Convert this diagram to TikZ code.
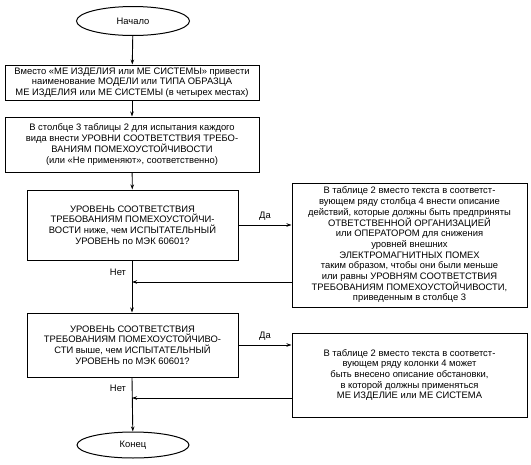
\documentclass[tikz,border=0pt]{standalone}
\usepackage{fontspec}
\setmainfont{Liberation Sans}
\usetikzlibrary{shapes.geometric,arrows.meta}

\tikzset{
	blk/.style={draw,line width=1pt,rectangle,align=center,inner sep=2pt,font=\fontsize{9.4}{10.7}\selectfont},
	term/.style={draw,line width=1pt,ellipse,inner sep=0pt,font=\fontsize{9.4}{10.7}\selectfont},
	arr/.style={line width=0.9pt,-{Stealth[length=5pt,width=3.5pt]}},
	lbl/.style={font=\fontsize{9.4}{10.7}\selectfont,inner sep=0pt}
}

\begin{document}
\begin{tikzpicture}[x=1pt,y=-1pt]
		\useasboundingbox (0,0) rectangle (531,464);
		% main column
		\node[term,minimum width=113pt,minimum height=29pt] (start) at (133,21) {Начало};
		\node[blk,minimum width=254pt,minimum height=35pt] (b1) at (132,82.5)
			{Вместо «МЕ ИЗДЕЛИЯ или МЕ СИСТЕМЫ» привести\\наименование МОДЕЛИ или ТИПА ОБРАЗЦА\\МЕ ИЗДЕЛИЯ или МЕ СИСТЕМЫ (в четырех местах)};
		\node[blk,minimum width=254pt,minimum height=55pt] (b2) at (132,144.5)
			{В столбце 3 таблицы 2 для испытания каждого\\вида внести УРОВНИ СООТВЕТСТВИЯ ТРЕБО-\\ВАНИЯМ ПОМЕХОУСТОЙЧИВОСТИ\\(или «Не применяют», соответственно)};
		\node[blk,minimum width=211pt,minimum height=70pt] (q1) at (132.5,225)
			{УРОВЕНЬ СООТВЕТСТВИЯ\\ТРЕБОВАНИЯМ ПОМЕХОУСТОЙЧИ-\\ВОСТИ ниже, чем ИСПЫТАТЕЛЬНЫЙ\\УРОВЕНЬ по МЭК 60601?};
		\node[blk,minimum width=211pt,minimum height=64pt] (q2) at (132.5,345)
			{УРОВЕНЬ СООТВЕТСТВИЯ\\ТРЕБОВАНИЯМ ПОМЕХОУСТОЙЧИВО-\\СТИ выше, чем ИСПЫТАТЕЛЬНЫЙ\\УРОВЕНЬ по МЭК 60601?};
		\node[term,minimum width=112pt,minimum height=26pt] (end) at (133,445) {Конец};
		% right column
		\node[blk,minimum width=235pt,minimum height=124pt] (r1) at (409.5,245)
			{В таблице 2 вместо текста в соответст-\\вующем ряду столбца 4 внести описание\\действий, которые должны быть предприняты\\ОТВЕТСТВЕННОЙ ОРГАНИЗАЦИЕЙ\\или ОПЕРАТОРОМ для снижения\\уровней внешних\\ЭЛЕКТРОМАГНИТНЫХ ПОМЕХ\\таким образом, чтобы они были меньше\\или равны УРОВНЯМ СООТВЕТСТВИЯ\\ТРЕБОВАНИЯМ ПОМЕХОУСТОЙЧИВОСТИ,\\приведенным в столбце 3};
		\node[blk,minimum width=235pt,minimum height=84pt] (r2) at (409.5,375)
			{В таблице 2 вместо текста в соответст-\\вующем ряду колонки 4 может\\быть внесено описание обстановки,\\в которой должны применяться\\МЕ ИЗДЕЛИЕ или МЕ СИСТЕМА};
		% joins
		\coordinate (j1) at (132,282);
		\coordinate (j2) at (132,398);
		\draw[arr] (start) -- (b1);
		\draw[arr] (b1) -- (b2);
		\draw[arr] (b2) -- (q1);
		\draw[arr] (q1.south -| j1) -- (q2.north -| j1);
		\draw[arr] (q2.south -| j2) -- (end);
		\draw[arr] (q1.east) -- (q1.east -| r1.west) node[lbl,midway,above=4pt] (yes1) {Да};
		\draw[arr] (q2.east) -- (q2.east -| r2.west) node[lbl,midway,above=4pt] (yes2) {Да};
		\draw[arr] (r1.west |- j1) -- (j1);
		\draw[arr] (r2.west |- j2) -- (j2);
		\node[lbl] (no1) at (118,272) {Нет};
		\node[lbl] (no2) at (118,388) {Нет};
	\end{tikzpicture}
\end{document}
